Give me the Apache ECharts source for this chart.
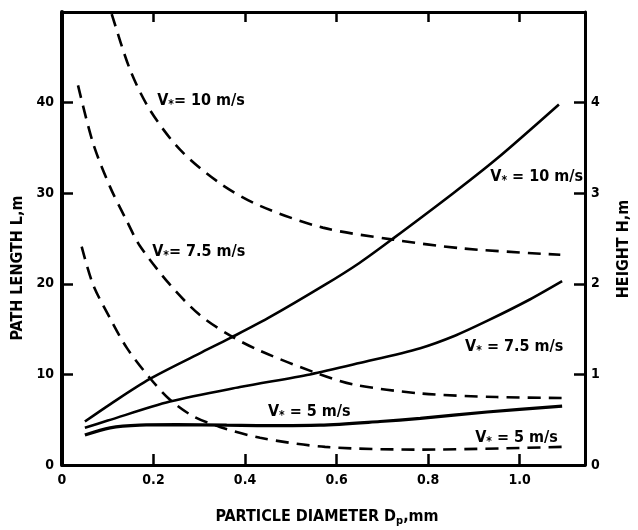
<!DOCTYPE html>
<html>
<head>
<meta charset="utf-8">
<script src="https://cdn.jsdelivr.net/npm/echarts@6/dist/echarts.min.js"></script>
<style>html,body{margin:0;padding:0;background:#fff}#c{width:638px;height:530px}</style>
</head>
<body>
<div id="c"></div>
<script>
// Particle diameter (mm) and path length L (m) - solid curves, left axis
const xL10 = [0.05, 0.105, 0.192, 0.30, 0.367, 0.45, 0.575, 0.65, 0.721, 0.855, 0.95, 1.086];
const L10  = [4.8, 6.7, 9.5, 12.3, 14.0, 16.2, 19.9, 22.3, 24.9, 30.0, 33.8, 39.8];
const xL75 = [0.05, 0.10, 0.236, 0.389, 0.542, 0.65, 0.783, 0.86, 0.929, 1.016, 1.093];
const L75  = [4.1, 4.9, 7.0, 8.6, 10.0, 11.25, 12.9, 14.3, 15.9, 18.1, 20.3];
const xL5  = [0.05, 0.105, 0.17, 0.25, 0.36, 0.45, 0.564, 0.695, 0.783, 0.929, 1.093];
const L5   = [3.3, 4.1, 4.4, 4.45, 4.4, 4.35, 4.4, 4.8, 5.15, 5.85, 6.5];
// Particle diameter (mm) and height H (m) - dashed curves, right axis
const xH10 = [0.095, 0.109, 0.149, 0.192, 0.258, 0.345, 0.433, 0.57, 0.72, 0.876, 1.089];
const H10  = [5.2, 4.97, 4.36, 3.92, 3.48, 3.11, 2.86, 2.62, 2.49, 2.39, 2.32];
const xH75 = [0.035, 0.068, 0.105, 0.142, 0.17, 0.236, 0.30, 0.367, 0.433, 0.553, 0.636, 0.783, 0.95, 1.093];
const H75  = [4.19, 3.55, 3.07, 2.69, 2.42, 1.99, 1.66, 1.43, 1.26, 1.02, 0.89, 0.79, 0.75, 0.74];
const xH5  = [0.043, 0.068, 0.105, 0.142, 0.192, 0.236, 0.286, 0.345, 0.433, 0.575, 0.783, 1.093];
const H5   = [2.41, 1.99, 1.62, 1.29, 0.96, 0.72, 0.54, 0.42, 0.30, 0.20, 0.17, 0.20];
// Tick labels
const xTicks = [0, 0.2, 0.4, 0.6, 0.8, 1.0];
const leftTicks = [0, 10, 20, 30, 40];
const rightTicks = [0, 1, 2, 3, 4];
// Curve annotations (data coordinates on left axis)
const annText = ['V{s|*}= 10 m/s', 'V{s|*}= 7.5 m/s', 'V{s|*} = 10 m/s', 'V{s|*} = 7.5 m/s', 'V{s|*} = 5 m/s', 'V{s|*} = 5 m/s'];
const annX = [0.208, 0.197, 0.936, 0.881, 0.45, 0.903];
const annY = [40.2, 23.5, 31.8, 13.0, 5.85, 3.0];

const FONT = '"Liberation Sans Narrow", "DejaVu Sans Condensed", "Arial Narrow", sans-serif';
const pairs = (xs, ys) => xs.map((x, i) => [x, ys[i]]);
const chart = echarts.init(document.getElementById('c'), null, {renderer: 'canvas'});
const lbl = {color: '#000', fontFamily: FONT, fontWeight: 'bold', fontSize: 14};
const tickStyle = {color: '#000', width: 2.5};
const solid = (d, w) => ({type: 'line', data: d, xAxisIndex: 0, yAxisIndex: 0, symbol: 'none', smooth: 0.3,
  lineStyle: {color: '#000', width: w || 2.6}});
const dashed = d => ({type: 'line', data: d, xAxisIndex: 0, yAxisIndex: 1, symbol: 'none', smooth: 0.3,
  lineStyle: {color: '#000', width: 2.6, type: [13, 8]}});

chart.setOption({
  animation: false,
  backgroundColor: '#fff',
  grid: {left: 62, right: 53, top: 12, bottom: 65},
  xAxis: [
    {type: 'value', min: 0, max: 1.143, position: 'bottom', splitLine: {show: false},
     axisLine: {onZero: false, lineStyle: {color: '#000', width: 3}},
     axisTick: {inside: true, length: 11, lineStyle: tickStyle, customValues: xTicks.filter(v => v > 0)},
     axisLabel: Object.assign({customValues: xTicks, margin: 8, formatter: v => v === 0 ? '0' : v.toFixed(1)}, lbl)},
    {type: 'value', min: 0, max: 1.143, position: 'top', splitLine: {show: false},
     axisLine: {onZero: false, lineStyle: {color: '#000', width: 3}},
     axisTick: {inside: true, length: 10, lineStyle: tickStyle, customValues: xTicks.filter(v => v > 0)},
     axisLabel: {show: false}}
  ],
  yAxis: [
    {type: 'value', min: 0, max: 50, position: 'left', splitLine: {show: false},
     axisLine: {show: true, onZero: false, lineStyle: {color: '#000', width: 4}},
     axisTick: {show: true, inside: true, length: 11, lineStyle: tickStyle, customValues: leftTicks.filter(v => v > 0)},
     axisLabel: Object.assign({customValues: leftTicks, margin: 8}, lbl)},
    {type: 'value', min: 0, max: 5, position: 'right', splitLine: {show: false},
     axisLine: {show: true, onZero: false, lineStyle: {color: '#000', width: 3}},
     axisTick: {show: true, inside: true, length: 11, lineStyle: tickStyle, customValues: rightTicks.filter(v => v > 0)},
     axisLabel: Object.assign({customValues: rightTicks, margin: 6}, lbl)}
  ],
  series: [
    solid(pairs(xL10, L10)), solid(pairs(xL75, L75)), solid(pairs(xL5, L5), 3.2),
    dashed(pairs(xH10, H10)), dashed(pairs(xH75, H75)), dashed(pairs(xH5, H5))
  ]
});

const nameStyle = {fill: '#000', fontFamily: FONT, fontWeight: 'bold', fontSize: 16, align: 'center', verticalAlign: 'middle'};
const graphics = [
  {type: 'text', x: 18, y: 268, rotation: Math.PI / 2, style: Object.assign({text: 'PATH LENGTH L,m'}, nameStyle)},
  {type: 'text', x: 624, y: 249, rotation: Math.PI / 2, style: Object.assign({text: 'HEIGHT H,m'}, nameStyle)},
  {type: 'text', x: 327, y: 517, style: Object.assign({text: 'PARTICLE DIAMETER D{s|p},mm',
    rich: {s: {fontSize: 11, fontWeight: 'bold', fontFamily: FONT, padding: [9, 0, 0, 0]}}}, nameStyle)}
];
annText.forEach((t, i) => {
  const p = chart.convertToPixel({xAxisIndex: 0, yAxisIndex: 0}, [annX[i], annY[i]]);
  graphics.push({type: 'text', x: p[0], y: p[1], style: {text: t, fill: '#000', fontFamily: FONT, fontWeight: 'bold',
    fontSize: 16, align: 'left', verticalAlign: 'middle',
    rich: {s: {fontSize: 12, fontWeight: 'bold', fontFamily: FONT, padding: [8, 0, 0, 0]}}}});
});
chart.setOption({graphic: graphics});
</script>
</body>
</html>
